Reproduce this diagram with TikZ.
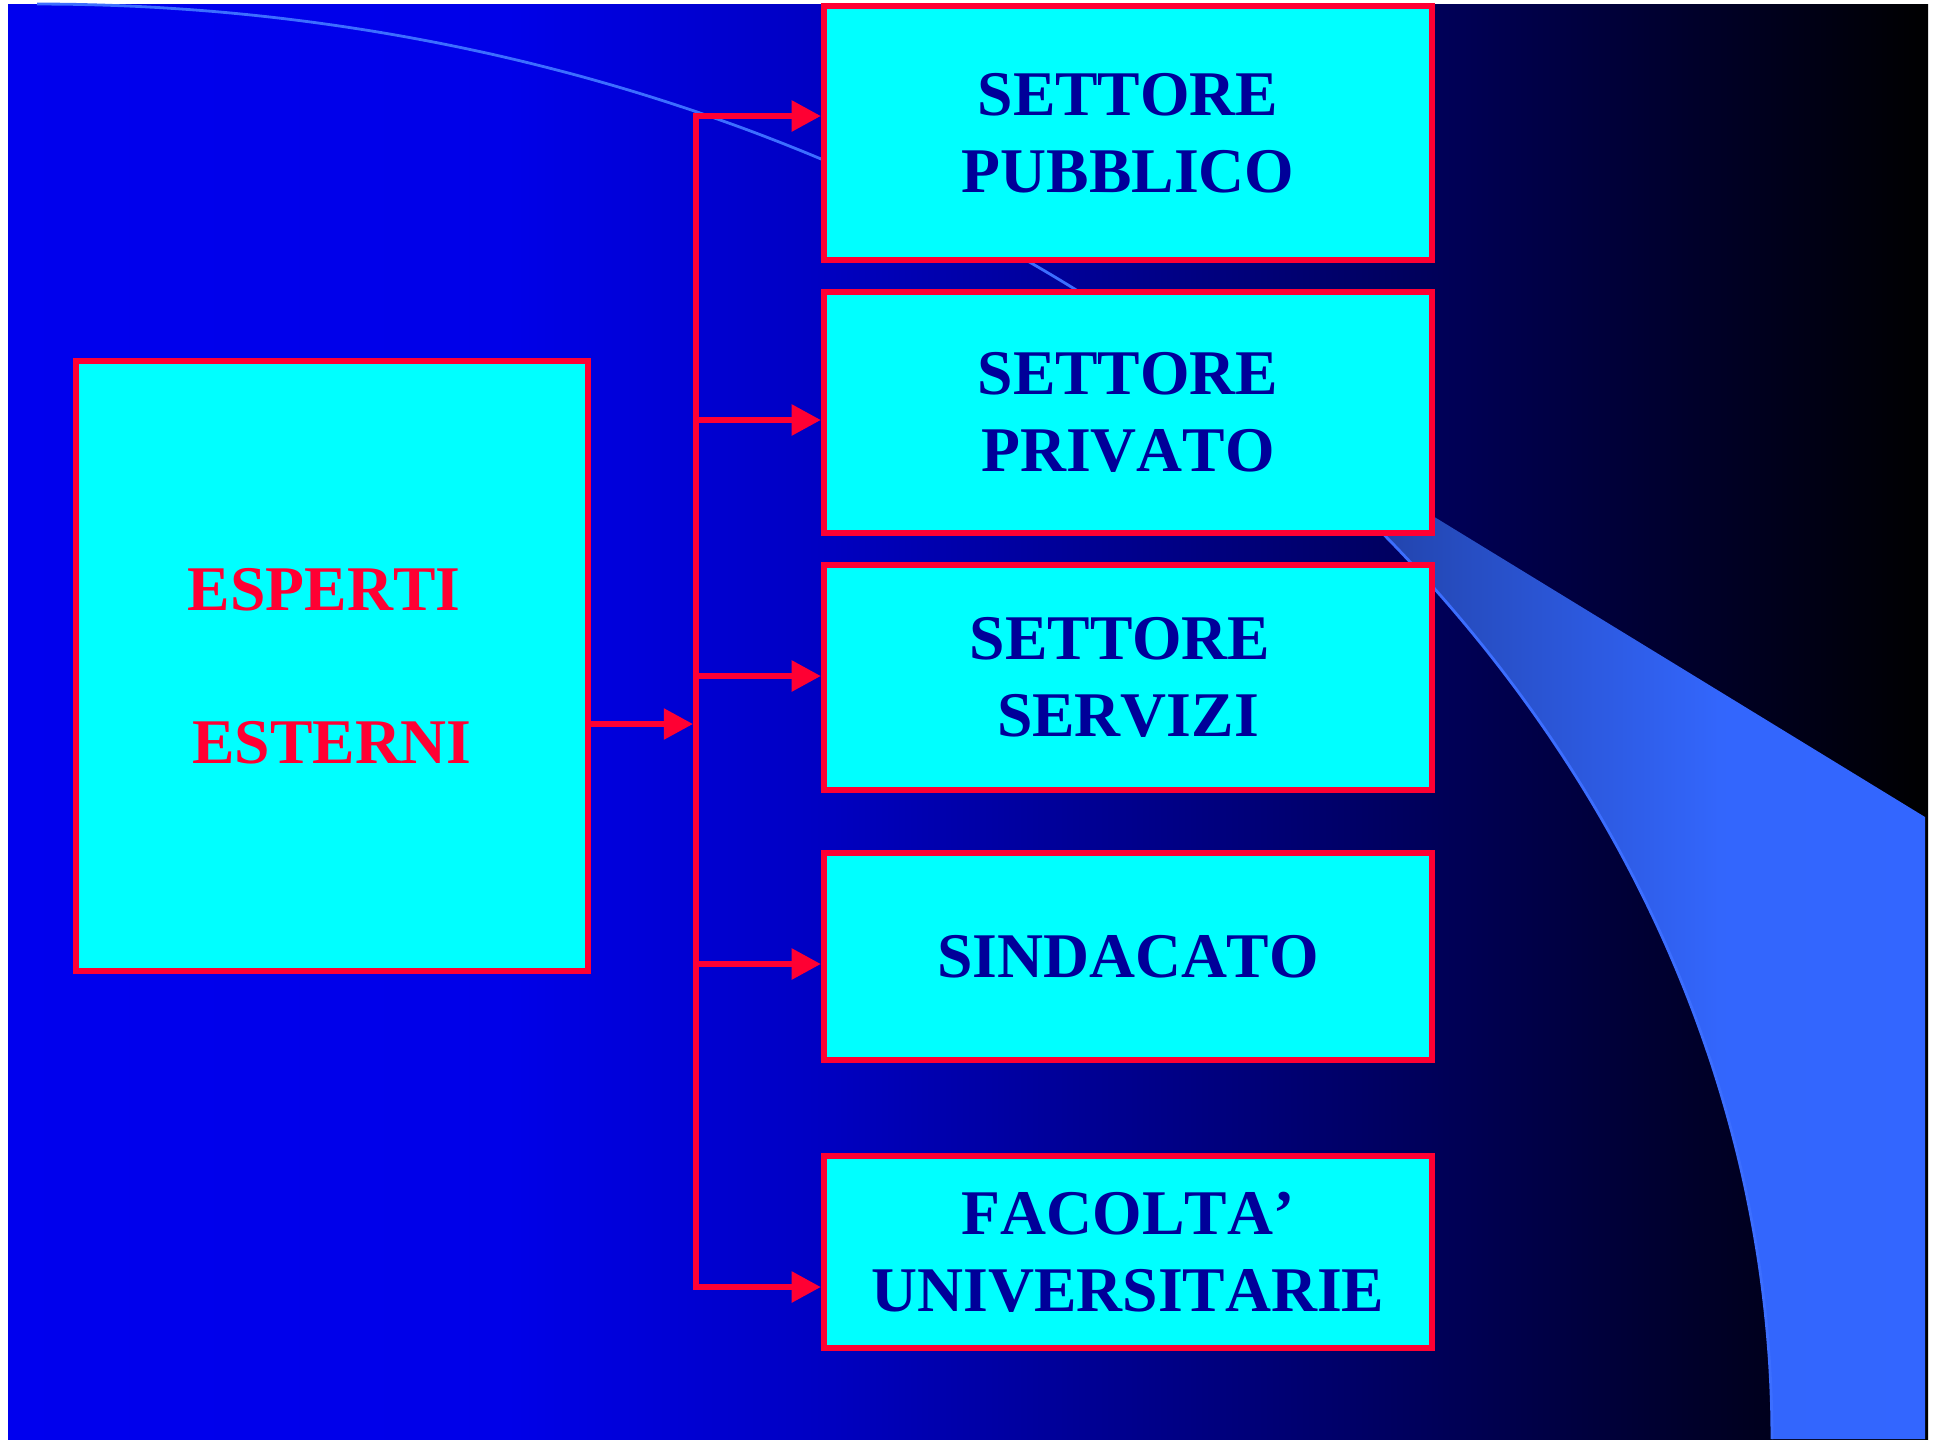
\documentclass[tikz,border=0pt]{standalone}
\usepackage{fontspec}
\setmainfont[Kerning=Off]{Liberation Serif}
\usetikzlibrary{arrows.meta}
\definecolor{boxred}{RGB}{255,0,51}
\definecolor{boxcyan}{RGB}{0,255,255}
\definecolor{navytext}{RGB}{0,0,153}
\definecolor{curveblue}{RGB}{60,110,255}
\pgfdeclarehorizontalshading{bgshade}{100bp}{
 rgb(0bp)=(0,0,0.933);
 rgb(25bp)=(0,0,0.933);
 rgb(38bp)=(0,0,0.91);
 rgb(46bp)=(0,0,0.765);
 rgb(53.5bp)=(0,0,0.57);
 rgb(62bp)=(0,0,0.353);
 rgb(67.5bp)=(0,0,0.204);
 rgb(75bp)=(0,0,0);
 rgb(100bp)=(0,0,0)}
\pgfdeclarehorizontalshading{wedgeshade}{100bp}{
 rgb(0bp)=(0.118,0.235,0.627);
 rgb(25bp)=(0.118,0.235,0.627);
 rgb(37.5bp)=(0.133,0.267,0.675);
 rgb(52.5bp)=(0.176,0.353,0.882);
 rgb(61bp)=(0.2,0.4,0.99);
 rgb(75bp)=(0.2,0.4,1);
 rgb(100bp)=(0.2,0.4,1)}
\begin{document}
\begin{tikzpicture}[x=0.01cm,y=-0.01cm,
  box/.style={draw=boxred, fill=boxcyan, line width=1.7pt, inner sep=0pt,
    font=\fontsize{18.1pt}{21.8pt}\selectfont\bfseries, align=center, text=navytext},
  conn/.style={draw=boxred, line width=1.7pt},
  tip/.style={-{Triangle[length=8.3pt,width=8.5pt]}}]
\useasboundingbox[fill=white] (0,0) rectangle (1940,1439);
\shade[shading=bgshade] (8,4) rectangle (1928,1439);
\shade[shading=wedgeshade] plot[domain=-48.1:0, samples=60, smooth] ({37+1735*cos(\x)},{1439+1435*sin(\x)}) -- (1925,1439) -- (1925,817) -- cycle;
\draw[curveblue, line width=0.8pt] plot[domain=-90:0, samples=90, smooth] ({37+1735*cos(\x)},{1439+1435*sin(\x)});

\node[box, text=boxred, minimum width=5.12cm, minimum height=6.10cm] (E) at (332,666) {ESPERTI\hspace*{0.25em}\\[21.8pt]ESTERNI};
\node[box, minimum width=6.08cm, minimum height=2.54cm] (B1) at (1128,133) {SETTORE\\PUBBLICO};
\node[box, minimum width=6.08cm, minimum height=2.41cm] (B2) at (1128,412.5) {SETTORE\\PRIVATO};
\node[box, minimum width=6.08cm, minimum height=2.25cm] (B3) at (1128,677.5) {SETTORE\hspace*{0.25em}\\SERVIZI};
\node[box, minimum width=6.08cm, minimum height=2.07cm] (B4) at (1128,956.5) {SINDACATO};
\node[box, minimum width=6.08cm, minimum height=1.92cm] (B5) at (1128,1252) {FACOLTA’\\UNIVERSITARIE};

\coordinate (t0) at (696,724);
\coordinate (t1) at (696,116);
\coordinate (t2) at (696,420);
\coordinate (t3) at (696,676);
\coordinate (t4) at (696,964);
\coordinate (t5) at (696,1287);

\draw[conn, line cap=rect, tip] (t5) -- (t1) -- (t1 -| B1.west);
\draw[conn, tip] (t2) -- (t2 -| B2.west);
\draw[conn, tip] (t3) -- (t3 -| B3.west);
\draw[conn, tip] (t4) -- (t4 -| B4.west);
\draw[conn, tip] (t5) -- (t5 -| B5.west);
\draw[conn, tip, shorten >=0.85pt] (t0 -| E.east) -- (t0);
\end{tikzpicture}
\end{document}
